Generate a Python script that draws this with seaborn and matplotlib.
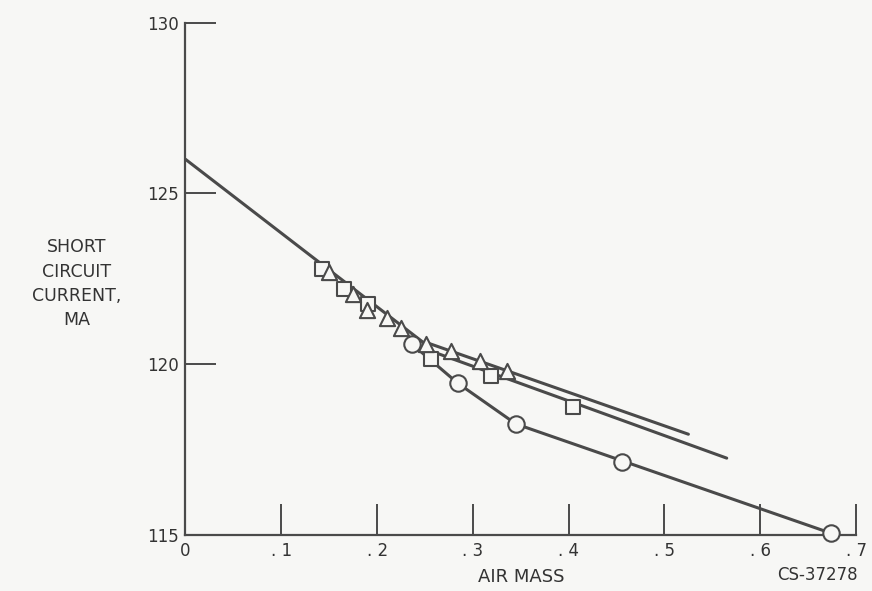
import numpy as np
import pandas as pd
import matplotlib
matplotlib.use("Agg")
import matplotlib.pyplot as plt
import seaborn as sns

# measured points (air mass, short circuit current in mA)
square_x = [0.142, 0.166, 0.191, 0.256, 0.319, 0.405]
square_y = [122.8, 122.2, 121.75, 120.15, 119.65, 118.75]

triangle_x = [0.150, 0.175, 0.190, 0.210, 0.225, 0.251, 0.277, 0.307, 0.336]
triangle_y = [122.7, 122.05, 121.6, 121.35, 121.05, 120.6, 120.4, 120.1, 119.8]

circle_x = [0.236, 0.284, 0.345, 0.456, 0.674]
circle_y = [120.6, 119.45, 118.25, 117.15, 115.05]

# faired curves
common_x = [0.0, 0.25]
common_y = [126.0, 120.6]
tri_fit_x = [0.25, 0.525]
tri_fit_y = [120.65, 117.95]
sq_fit_x = [0.24, 0.565]
sq_fit_y = [120.55, 117.25]
circ_fit_x = [0.236, 0.284, 0.345, 0.674]
circ_fit_y = [120.6, 119.45, 118.25, 115.05]

x_ticks = [0, 0.1, 0.2, 0.3, 0.4, 0.5, 0.6, 0.7]
x_tick_labels = ["0", ". 1", ". 2", ". 3", ". 4", ". 5", ". 6", ". 7"]
y_ticks = [115, 120, 125, 130]

sns.set_theme(style="white")
plt.rcParams['font.family'] = ['DejaVu Sans']

ink = "#4a4a4a"
bg = "#f7f7f5"

fig = plt.figure(figsize=(8.72, 5.91), dpi=100, facecolor=bg)
ax = fig.add_axes([0.2127, 0.0948, 0.769, 0.8668])
ax.set_facecolor(bg)

for fx, fy in [(common_x, common_y), (tri_fit_x, tri_fit_y),
               (sq_fit_x, sq_fit_y), (circ_fit_x, circ_fit_y)]:
    sns.lineplot(x=fx, y=fy, ax=ax, color=ink, linewidth=2.2, sort=False)

sns.scatterplot(x=square_x, y=square_y, ax=ax, marker="s", s=110,
                facecolor=bg, edgecolor=ink, linewidth=1.5, zorder=3)
sns.scatterplot(x=triangle_x, y=triangle_y, ax=ax, marker="^", s=120,
                facecolor=bg, edgecolor=ink, linewidth=1.5, zorder=3)
sns.scatterplot(x=circle_x, y=circle_y, ax=ax, marker="o", s=140,
                facecolor=bg, edgecolor=ink, linewidth=1.5, zorder=4)
for c in ax.collections:
    c.set_clip_on(False)

ax.set_xlim(0, 0.7)
ax.set_ylim(115, 130)
ax.set_xticks(x_ticks)
ax.set_xticklabels(x_tick_labels)
ax.set_yticks(y_ticks)
ax.set_yticklabels([str(v) for v in y_ticks])

for side in ["top", "right"]:
    ax.spines[side].set_visible(False)
for side in ["left", "bottom"]:
    ax.spines[side].set_color(ink)
    ax.spines[side].set_linewidth(1.6)

ax.tick_params(axis="both", which="major", direction="in", length=22, width=1.4,
               bottom=True, left=True, color=ink, labelcolor="#333333",
               labelsize=12, pad=5)

ax.set_xlabel("AIR MASS", fontsize=13, color="#333333", labelpad=6)
ax.set_ylabel("")
fig.text(0.088, 0.52, "SHORT\nCIRCUIT\nCURRENT,\nMA", ha="center", va="center",
         fontsize=12.5, color="#333333", linespacing=1.45)
fig.text(0.938, 0.012, "CS-37278", ha="center", va="bottom",
         fontsize=12, color="#333333")

fig.savefig("out.png", dpi=100, facecolor=bg)
